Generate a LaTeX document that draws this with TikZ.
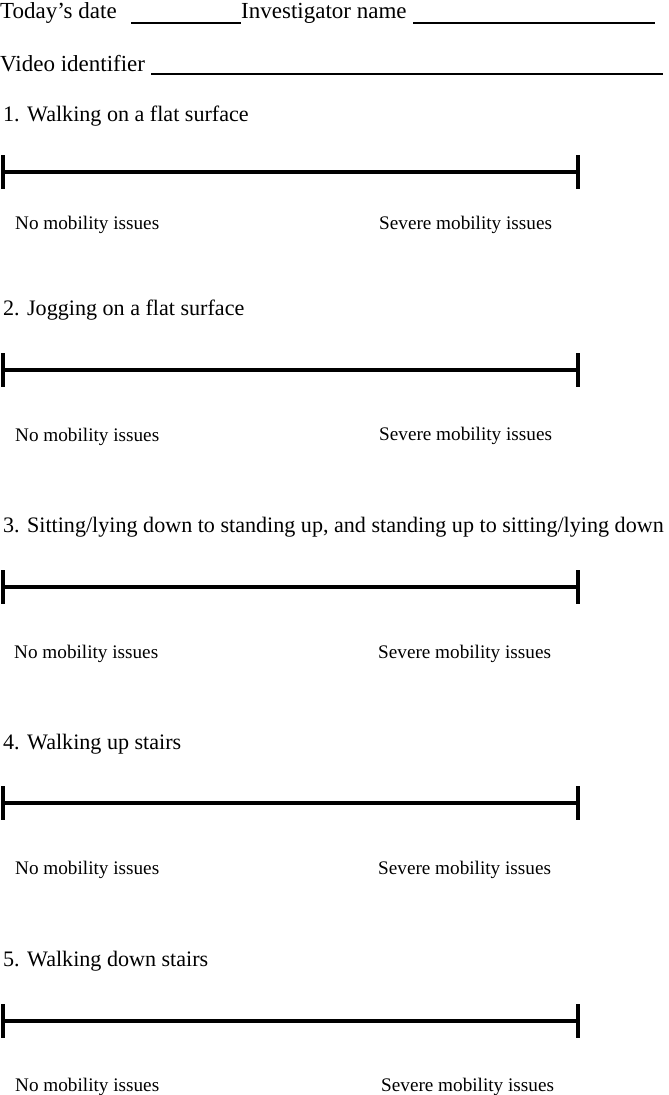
\documentclass[tikz,border=0pt]{standalone}
\usepackage{fontspec}
\setmainfont{Liberation Serif}
\begin{document}
\begin{tikzpicture}[x=1pt, y=-1pt,
  formtext/.style={anchor=base west, inner sep=0pt, font=\fontsize{23}{27}\selectfont},
  itemlabel/.style={anchor=base west, inner sep=0pt, font=\fontsize{22.1}{26}\selectfont},
  endlabel/.style={anchor=base west, inner sep=0pt, font=\fontsize{19.2}{23}\selectfont},
  blankline/.style={line width=1.3pt},
  scalebar/.style={line width=3.5pt}]
\useasboundingbox (0,0) rectangle (669,1095);
% Header fields
\node[formtext] (date) at (0,18.5) {Today’s date};
\node[formtext] (inv) at (241,18.5) {Investigator name};
\node[formtext] (vid) at (0,71) {Video identifier};
\coordinate (d1) at (131,23); \coordinate (d2) at (241,23);
\coordinate (i1) at (413,23); \coordinate (i2) at (655,23);
\coordinate (v1) at (151,74); \coordinate (v2) at (663,74);
\draw[blankline] (d1) -- (d2);
\draw[blankline] (i1) -- (i2);
\draw[blankline] (v1) -- (v2);
% Items
\node[itemlabel] (q1) at (3,121.5) {1. Walking on a flat surface};
\node[itemlabel] (q2) at (3,315.5) {2. Jogging on a flat surface};
\node[itemlabel] (q3) at (3,532.5) {3. Sitting/lying down to standing up, and standing up to sitting/lying down};
\node[itemlabel] (q4) at (3,749.5) {4. Walking up stairs};
\node[itemlabel] (q5) at (3,966.5) {5. Walking down stairs};
% Scales
\coordinate (b1l) at (3,172); \coordinate (b1r) at (578,172);
\coordinate (b2l) at (3,370); \coordinate (b2r) at (578,370);
\coordinate (b3l) at (3,587); \coordinate (b3r) at (578,587);
\coordinate (b4l) at (3,803); \coordinate (b4r) at (578,803);
\coordinate (b5l) at (3,1021); \coordinate (b5r) at (578,1021);
\draw[scalebar] (b1l) -- (b1r);
\draw[scalebar] ([yshift=17pt]b1l) -- ([yshift=-17pt]b1l);
\draw[scalebar] ([yshift=17pt]b1r) -- ([yshift=-17pt]b1r);
\draw[scalebar] (b2l) -- (b2r);
\draw[scalebar] ([yshift=17pt]b2l) -- ([yshift=-17pt]b2l);
\draw[scalebar] ([yshift=17pt]b2r) -- ([yshift=-17pt]b2r);
\draw[scalebar] (b3l) -- (b3r);
\draw[scalebar] ([yshift=17pt]b3l) -- ([yshift=-17pt]b3l);
\draw[scalebar] ([yshift=17pt]b3r) -- ([yshift=-17pt]b3r);
\draw[scalebar] (b4l) -- (b4r);
\draw[scalebar] ([yshift=17pt]b4l) -- ([yshift=-17pt]b4l);
\draw[scalebar] ([yshift=17pt]b4r) -- ([yshift=-17pt]b4r);
\draw[scalebar] (b5l) -- (b5r);
\draw[scalebar] ([yshift=17pt]b5l) -- ([yshift=-17pt]b5l);
\draw[scalebar] ([yshift=17pt]b5r) -- ([yshift=-17pt]b5r);
% End labels
\node[endlabel] (n1) at (15,229) {No mobility issues};
\node[endlabel] (s1) at (379,229) {Severe mobility issues};
\node[endlabel] (n2) at (15,441) {No mobility issues};
\node[endlabel] (s2) at (379,440) {Severe mobility issues};
\node[endlabel] (n3) at (14,658) {No mobility issues};
\node[endlabel] (s3) at (378,658) {Severe mobility issues};
\node[endlabel] (n4) at (15,874) {No mobility issues};
\node[endlabel] (s4) at (378,874) {Severe mobility issues};
\node[endlabel] (n5) at (15,1091) {No mobility issues};
\node[endlabel] (s5) at (381,1091) {Severe mobility issues};
\end{tikzpicture}
\end{document}
